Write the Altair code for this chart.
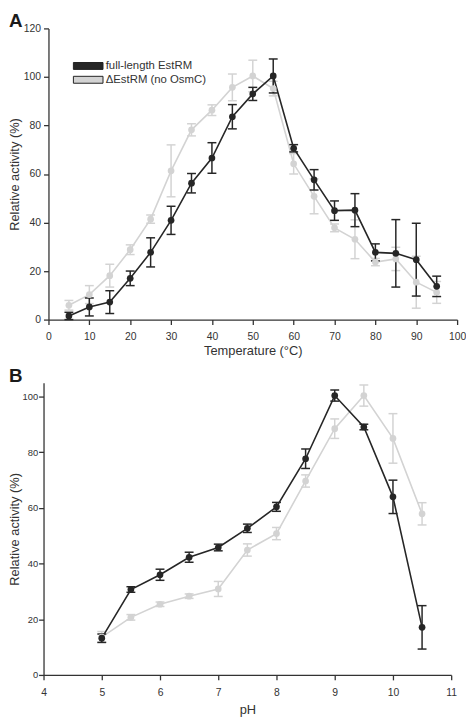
import altair as alt
import pandas as pd

# ---------------- data ----------------
SERIES = ["full-length EstRM", "ΔEstRM (no OsmC)"]
COLORS = ["#262626", "#d3d3d3"]

temp_x = [5, 10, 15, 20, 25, 30, 35, 40, 45, 50, 55, 60, 65, 70, 75, 80, 85, 90, 95]
temp_full_y = [1.5, 5.2, 7.2, 17.0, 27.7, 40.9, 56.2, 66.6, 83.6, 93.0, 100.4, 70.6, 57.6, 44.9, 45.1, 27.7, 27.3, 24.7, 13.7]
temp_full_err = [1.5, 3.7, 4.7, 3.0, 6.0, 5.8, 4.0, 6.3, 5.0, 2.7, 7.0, 1.5, 4.2, 4.0, 6.8, 3.5, 13.9, 15.0, 4.2]
temp_delta_y = [5.9, 10.3, 18.1, 28.8, 41.4, 61.3, 78.2, 86.3, 95.7, 100.4, 95.2, 64.2, 50.8, 37.8, 33.1, 23.7, 25.0, 15.4, 11.2]
temp_delta_err = [2.0, 3.7, 4.7, 2.0, 1.7, 10.7, 2.5, 2.2, 5.5, 6.5, 3.0, 4.2, 7.2, 1.6, 8.0, 1.5, 4.8, 10.7, 4.5]

ph_x = [5, 5.5, 6, 6.5, 7, 7.5, 8, 8.5, 9, 9.5, 10, 10.5]
ph_full_y = [13.2, 30.7, 36.0, 42.3, 45.8, 52.7, 60.4, 77.7, 100.4, 89.1, 64.0, 17.1]
ph_full_err = [1.5, 1.0, 2.0, 1.8, 1.2, 1.5, 1.6, 3.5, 2.0, 1.0, 6.0, 7.8]
ph_delta_y = [13.6, 20.7, 25.4, 28.3, 30.9, 44.9, 50.8, 69.7, 88.5, 100.4, 85.0, 57.9]
ph_delta_err = [2.0, 1.0, 0.8, 0.8, 2.7, 2.2, 2.2, 2.2, 3.5, 3.8, 8.9, 4.0]

PANEL_LETTERS = ["A", "B"]


def make_df(xs, y_full, e_full, y_delta, e_delta):
    rows = []
    for s, ys, es in [(SERIES[0], y_full, e_full), (SERIES[1], y_delta, e_delta)]:
        for x, y, e in zip(xs, ys, es):
            rows.append({"series": s, "x": x, "y": y, "lo": y - e, "hi": y + e})
    return pd.DataFrame(rows)


temp_df = make_df(temp_x, temp_full_y, temp_full_err, temp_delta_y, temp_delta_err)
ph_df = make_df(ph_x, ph_full_y, ph_full_err, ph_delta_y, ph_delta_err)

FONT = "Liberation Sans"
TXT = "#333333"
# colour scale (used by the points and the legend)
cscale = alt.Scale(domain=SERIES, range=COLORS)
# the same mapping for lines / error bars (listed in reverse order so it stays a separate scale)
sscale = alt.Scale(domain=SERIES[::-1], range=COLORS[::-1])


def panel(df, letter, xscale, xvals, xtitle, ydomain, yvals, width, height,
          ylab_size, ylab_pad, ytitle_pad, yoffset, xlab_pad, xtitle_pad, legend):
    xaxis = alt.Axis(values=xvals, title=xtitle, labelFontSize=10.5, labelPadding=xlab_pad,
                     titlePadding=xtitle_pad, titleFontSize=13, labelFlush=False,
                     labelOverlap=False, format="d")
    yaxis = alt.Axis(values=yvals, title="Relative activity (%)", labelFontSize=ylab_size,
                     labelPadding=ylab_pad, titlePadding=ytitle_pad, titleFontSize=13,
                     labelFlush=False, labelOverlap=False, offset=yoffset)
    ysc = alt.Scale(domain=ydomain, nice=False)
    X = alt.X("x:Q", scale=xscale, axis=xaxis)
    Y = alt.Y("y:Q", scale=ysc, axis=yaxis)
    S = alt.Stroke("series:N", scale=sscale, legend=None)
    Fl = alt.Fill("series:N", scale=sscale, legend=None)
    layers = []
    for s in [SERIES[1], SERIES[0]]:
        b = alt.Chart(df).transform_filter(alt.datum.series == s)
        layers.append(b.mark_line(strokeWidth=1.6).encode(x=X, y=Y, stroke=S))
        layers.append(b.mark_rule(strokeWidth=1.5).encode(
            x=X, y=alt.Y("lo:Q", scale=ysc, axis=yaxis), y2="hi:Q", stroke=S))
        layers.append(b.mark_tick(orient="horizontal", size=9, thickness=1.5, opacity=1).encode(
            x=X, y=alt.Y("lo:Q", scale=ysc, axis=yaxis), fill=Fl))
        layers.append(b.mark_tick(orient="horizontal", size=9, thickness=1.5, opacity=1).encode(
            x=X, y=alt.Y("hi:Q", scale=ysc, axis=yaxis), fill=Fl))
    C = alt.Color("series:N", scale=cscale, legend=legend)
    layers.append(alt.Chart(df).mark_point(filled=True, size=46, opacity=1).encode(
        x=X, y=Y, color=C, order=alt.Order("series:N", sort="descending")))
    lab = alt.Chart(pd.DataFrame({"letter": [letter]})).mark_text(
        font=FONT, fontSize=19, fontWeight="bold", align="left", baseline="alphabetic",
        color="#1a1a1a",
    ).encode(text="letter:N", x=alt.value(-40), y=alt.value(-1))
    layers.append(lab)
    return alt.layer(*layers).properties(width=width, height=height)


legendA = alt.Legend(
    title=None, orient="none", legendX=34.5, legendY=32.3,
    symbolType="M-3,-0.7H3V0.7H-3Z", symbolSize=100, symbolStrokeColor="#222222",
    symbolStrokeWidth=1, symbolOpacity=1, rowPadding=1, labelOffset=12,
    labelFontSize=11.5, labelFont=FONT, labelColor=TXT, labelLimit=300,
)

chartA = panel(temp_df, PANEL_LETTERS[0],
               alt.Scale(domain=[0, 100], nice=False, zero=False),
               list(range(0, 101, 10)), "Temperature (°C)",
               [0, 120], list(range(0, 121, 20)), 414, 295,
               10.5, 3, 2, 0, 7, 2.5, legendA)
chartB = panel(ph_df, PANEL_LETTERS[1],
               alt.Scale(domain=[4, 11], nice=False, zero=False, range=[-5, 408]),
               [4, 5, 6, 7, 8, 9, 10, 11], "pH",
               [0, 105], list(range(0, 101, 20)), 408, 296,
               9.5, 1, 0, 5, 8, 5.5, None)

chart = alt.vconcat(chartA, chartB, spacing=10).resolve_scale(
    x="independent", y="independent", color="independent", stroke="independent",
    fill="independent"
).properties(padding=0).configure_view(stroke=None).configure_axis(
    domainColor=TXT, domainWidth=1.3, tickColor=TXT, tickWidth=1.3, tickSize=5,
    labelColor=TXT, titleColor=TXT, titleFontWeight="normal", grid=False,
    labelFont=FONT, titleFont=FONT,
)

chart.save("out.html", embed_options={"renderer": "svg", "actions": False})
